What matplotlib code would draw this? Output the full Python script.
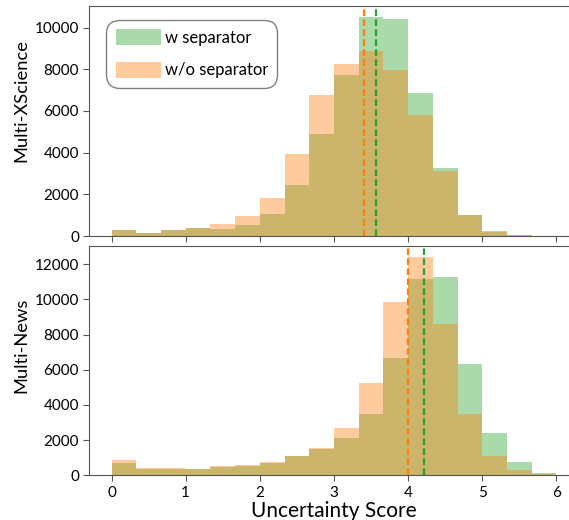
import numpy as np
import matplotlib
matplotlib.use('Agg')
from matplotlib import pyplot as plt

plt.rcParams['font.family'] = ['Lato', 'DejaVu Sans']

# bin edges of the uncertainty score histograms
edges = np.linspace(0, 6, 19)
centers = (edges[:-1] + edges[1:]) / 2

# Multi-XScience counts per bin
xsci_sep = [290, 160, 300, 370, 350, 540, 1060, 2430, 4900, 7730, 10500, 10420, 6850, 3250, 1010, 240, 30, 0]
xsci_nosep = [290, 160, 270, 370, 580, 960, 1840, 3940, 6770, 8260, 8900, 7970, 5790, 3120, 1010, 190, 30, 0]
# Multi-News counts per bin
news_sep = [720, 380, 380, 330, 450, 550, 720, 1100, 1500, 2140, 3485, 6690, 11190, 11290, 6310, 2420, 780, 130]
news_nosep = [870, 435, 435, 370, 530, 590, 780, 1100, 1530, 2670, 5265, 9870, 12420, 8600, 3485, 1100, 300, 60]

# mean scores (dashed lines)
xsci_means = {'sep': 3.57, 'nosep': 3.40}
news_means = {'sep': 4.21, 'nosep': 4.00}

labels = ['w separator', 'w/o separator']
panels = [('Multi-XScience', xsci_sep, xsci_nosep, xsci_means, 0.588),
          ('Multi-News', news_sep, news_nosep, news_means, 0.565)]

fig = plt.figure(figsize=(5.69, 5.2), dpi=100)
ax_top = fig.add_axes([0.157, 0.546, 0.86, 0.442])
ax_bot = fig.add_axes([0.157, 0.086, 0.86, 0.441], sharex=ax_top)

for ax, (name, sep, nosep, means, ypos) in zip([ax_top, ax_bot], panels):
    ax.hist(centers, bins=edges, weights=sep, color='tab:green', alpha=0.4, label=labels[0])
    ax.hist(centers, bins=edges, weights=nosep, color='tab:orange', alpha=0.4, label=labels[1])
    ax.axvline(means['nosep'], color='tab:orange', linestyle=(0, (3, 1.5)), linewidth=1.6)
    ax.axvline(means['sep'], color='tab:green', linestyle=(0, (3, 1.5)), linewidth=1.6)
    ax.set_ylabel(name, fontsize=13.2)
    ax.yaxis.set_label_coords(-0.122, ypos)
    ax.tick_params(labelsize=11, color='#555555', length=4)
    for s in ax.spines.values():
        s.set_color('#555555')
    ax.spines['right'].set_visible(False)

ax_top.tick_params(labelbottom=False)
ax_bot.set_xlabel('Uncertainty Score', fontsize=15, labelpad=1)
ax_bot.set_xticks([0, 1, 2, 3, 4, 5, 6])

leg = ax_top.legend(loc='upper left', bbox_to_anchor=(0.035, 0.94), borderaxespad=0,
                    fontsize=12, handlelength=2.7, handleheight=1.1, handletextpad=0.25,
                    labelspacing=0.95, borderpad=0.55, edgecolor='gray', framealpha=1,
                    fancybox=True)
leg.get_frame().set_boxstyle('round,pad=0,rounding_size=0.8')

fig.savefig('out.png', dpi=100)
